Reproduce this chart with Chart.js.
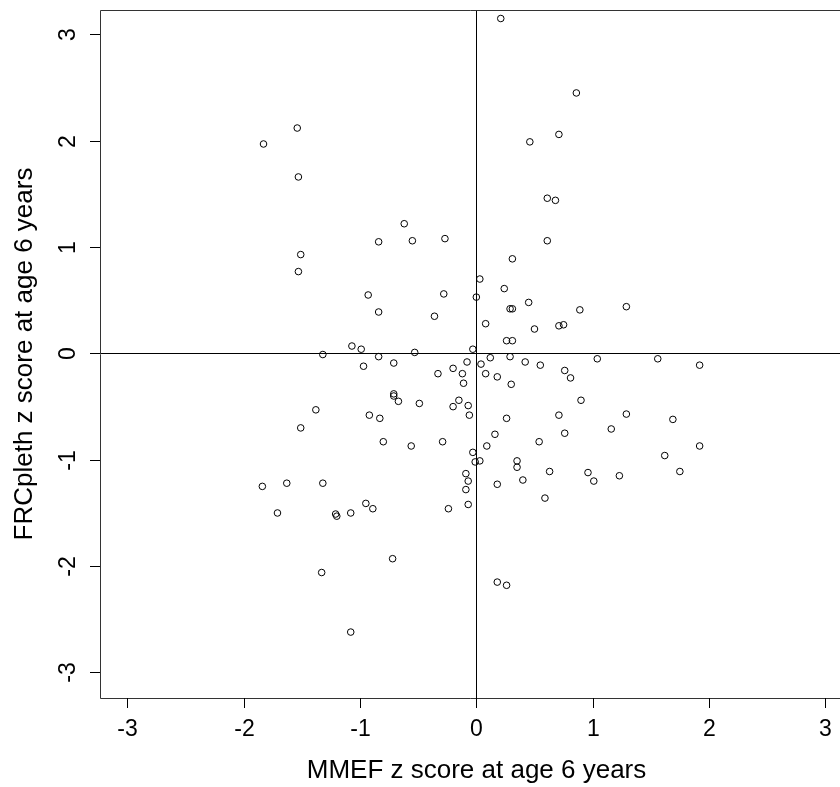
<!DOCTYPE html>
<html>
<head>
<meta charset="utf-8">
<title>MMEF vs FRCpleth z scores</title>
<script src="https://cdn.jsdelivr.net/npm/chart.js@4.4.1/dist/chart.umd.min.js"></script>
<style>
  html, body { margin: 0; padding: 0; background: #fff; }
  #scatter { display: block; }
</style>
</head>
<body>
<canvas id="scatter" width="840" height="787"></canvas>
<script>
// z scores at age 6, one entry per child
const mmefZ = [
  -1.54, -1.83, -1.53, 0.21, 0.86, 0.46, 0.71, 0.61, 0.68, -0.62,
  -1.51, -1.53, -1.32, -1.38, -1.51,
  -0.84, -0.55, -0.27, 0.61, 0.31, 0.03, 0.24, -0.93, -0.28, 0.00,
  0.45, 0.29, 0.31, 0.89, -0.84, -0.36, 0.08, 0.50, 0.71, 0.75,
  0.26, 0.31, -1.07, -0.99, -0.03, -0.84, -0.53, 0.12, 0.29, -0.97,
  -0.71, -0.08, 0.04, 0.42, 0.55, 0.76, 0.81, -0.33, -0.20, -0.12,
  0.08, 0.18, -0.11, 0.30, -0.71, -0.71, -0.67, -0.49, -0.15, -0.20,
  -0.07, -0.06, 0.90, -0.92, -0.83, 0.26, 0.71, 0.76, 0.16, -0.80,
  -0.56, -0.29, 0.54, 0.09, -0.03, -0.01, 0.03, 0.35, 0.35,
  1.29, 1.04, 1.56, 1.92, 1.29, 1.16, 1.69, 1.92, 1.62,
  0.96, 1.01, 1.23, 1.75,
  0.63, -0.09, -0.07, -0.09, -0.07, -0.24, 0.18, 0.40, 0.59, -1.08,
  -0.95, -0.89, -0.72, 0.18, 0.26, -1.08,
  -1.84, -1.63, -1.32, -1.71, -1.21, -1.20, -1.33
];
const frcZ = [
  2.12, 1.97, 1.66, 3.15, 2.45, 1.99, 2.06, 1.46, 1.44, 1.22,
  0.93, 0.77, -0.01, -0.53, -0.70,
  1.05, 1.06, 1.08, 1.06, 0.89, 0.70, 0.61, 0.55, 0.56, 0.53,
  0.48, 0.42, 0.42, 0.41, 0.39, 0.35, 0.28, 0.23, 0.26, 0.27,
  0.12, 0.12, 0.07, 0.04, 0.04, -0.03, 0.01, -0.04, -0.03, -0.12,
  -0.09, -0.08, -0.10, -0.08, -0.11, -0.16, -0.23, -0.19, -0.14, -0.19,
  -0.19, -0.22, -0.28, -0.29, -0.38, -0.40, -0.45, -0.47, -0.44, -0.50,
  -0.49, -0.58, -0.44, -0.58, -0.61, -0.61, -0.58, -0.75, -0.76, -0.83,
  -0.87, -0.83, -0.83, -0.87, -0.93, -1.02, -1.01, -1.01, -1.07,
  0.44, -0.05, -0.05, -0.11, -0.57, -0.71, -0.62, -0.87, -0.96,
  -1.12, -1.20, -1.15, -1.11,
  -1.11, -1.13, -1.20, -1.28, -1.42, -1.46, -1.23, -1.19, -1.36, -1.50,
  -1.41, -1.46, -1.93, -2.15, -2.18, -2.62,
  -1.25, -1.22, -1.22, -1.50, -1.51, -1.53, -2.06
];

const xTicks = [-3, -2, -1, 0, 1, 2, 3];
const yTicks = [-3, -2, -1, 0, 1, 2, 3];
const xTitle = "MMEF z score at age 6 years";
const yTitle = "FRCpleth z score at age 6 years";

const points = mmefZ.map((x, i) => ({ x: x, y: frcZ[i] }));

const FONT = '"Liberation Sans", Arial, sans-serif';

// base-graphics style frame: box, zero lines, outward ticks, rotated y labels
const basePlot = {
  id: "basePlot",
  beforeDatasetsDraw(chart) {
    const { ctx, chartArea: a, scales: { x, y } } = chart;
    const px = v => Math.round(x.getPixelForValue(v)) + 0.5;
    const py = v => Math.round(y.getPixelForValue(v)) + 0.5;
    ctx.save();
    ctx.lineWidth = 1;
    ctx.strokeStyle = "#000";

    // zero reference lines
    ctx.beginPath();
    ctx.moveTo(px(0), a.top);
    ctx.lineTo(px(0), a.bottom);
    ctx.moveTo(a.left, py(0));
    ctx.lineTo(a.right, py(0));
    ctx.stroke();

    // frame (right side runs off the canvas)
    ctx.strokeStyle = "#333";
    ctx.beginPath();
    ctx.moveTo(a.right, a.top + 0.5);
    ctx.lineTo(a.left + 0.5, a.top + 0.5);
    ctx.lineTo(a.left + 0.5, a.bottom + 0.5);
    ctx.lineTo(a.right, a.bottom + 0.5);
    ctx.stroke();

    // tick marks
    ctx.strokeStyle = "#000";
    ctx.beginPath();
    xTicks.forEach(t => {
      ctx.moveTo(px(t), a.bottom);
      ctx.lineTo(px(t), a.bottom + 10);
    });
    yTicks.forEach(t => {
      ctx.moveTo(a.left, py(t));
      ctx.lineTo(a.left - 10, py(t));
    });
    ctx.stroke();

    // tick labels
    ctx.fillStyle = "#000";
    ctx.font = "23px " + FONT;
    ctx.textAlign = "center";
    ctx.textBaseline = "alphabetic";
    xTicks.forEach(t => ctx.fillText(String(t), px(t), a.bottom + 38));
    yTicks.forEach(t => {
      ctx.save();
      ctx.translate(a.left - 25, py(t));
      ctx.rotate(-Math.PI / 2);
      ctx.fillText(String(t), 0, 0);
      ctx.restore();
    });

    // axis titles
    ctx.font = "26px " + FONT;
    ctx.fillText(xTitle, px(0), a.bottom + 80);
    ctx.save();
    ctx.translate(32, (a.top + a.bottom) / 2);
    ctx.rotate(-Math.PI / 2);
    ctx.fillText(yTitle, 0, 0);
    ctx.restore();
    ctx.restore();
  }
};

new Chart(document.getElementById("scatter"), {
  type: "scatter",
  data: {
    datasets: [{
      data: points,
      pointStyle: "circle",
      pointRadius: 3.3,
      pointHoverRadius: 3.3,
      borderWidth: 1,
      borderColor: "#000",
      backgroundColor: "rgba(0,0,0,0)"
    }]
  },
  options: {
    responsive: false,
    animation: false,
    events: [],
    layout: {
      autoPadding: false,
      padding: { left: 100, top: 10, right: 0, bottom: 89 }
    },
    plugins: {
      legend: { display: false },
      tooltip: { enabled: false }
    },
    scales: {
      x: { type: "linear", display: false, min: -3.236, max: 3.127 },
      y: { type: "linear", display: false, min: -3.24, max: 3.23 }
    }
  },
  plugins: [basePlot]
});
</script>
</body>
</html>
